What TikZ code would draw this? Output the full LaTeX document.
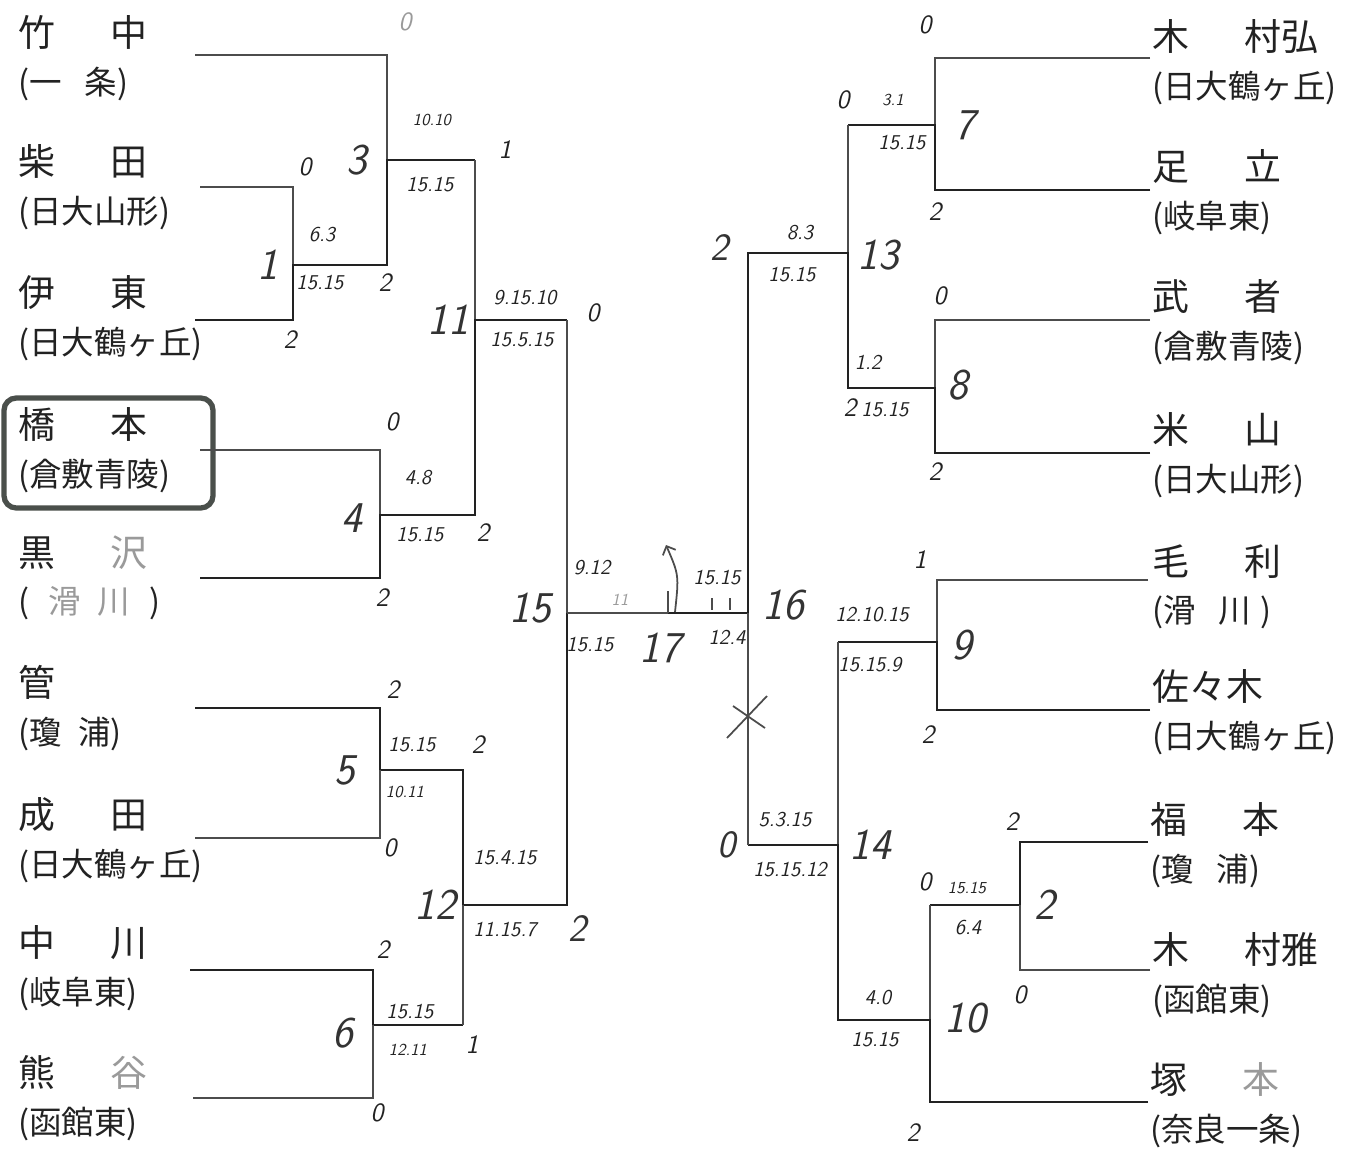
\documentclass[tikz,border=0pt]{standalone}
\usepackage{fontspec}
\usepackage{tikz}
\usetikzlibrary{arrows.meta,fit}
\newfontfamily\jp{Noto Sans CJK JP}
\definecolor{ink}{HTML}{222222}
\definecolor{faint}{HTML}{9A9A9A}
\definecolor{hlgray}{HTML}{4A4F4B}
\newcommand{\nm}{\fontsize{21}{27}\selectfont}
\newcommand{\nsp}{\hspace{1.5em}}
\tikzset{
  pname/.style={font=\jp\fontsize{18.5}{27}\selectfont,text=ink,align=left,inner sep=0pt,anchor=west},
  hlbox/.style={draw=hlgray,line width=3pt,rounded corners=7pt,inner sep=0pt},
  lose/.style={line width=0.6pt,draw=black!70},
  win/.style={line width=1.5pt,draw=ink},
  gsc/.style={font=\sffamily\itshape\fontsize{12}{12}\selectfont,text=ink,inner sep=1pt},
  gsm/.style={gsc,font=\sffamily\itshape\fontsize{9.5}{10}\selectfont},
  msc/.style={font=\sffamily\itshape\fontsize{15}{15}\selectfont,text=ink,inner sep=1pt},
  mno/.style={font=\sffamily\itshape\fontsize{25}{25}\selectfont,text=black!80,inner sep=1pt},
  mbig/.style={mno,font=\sffamily\itshape\fontsize{22}{22}\selectfont}
}
\begin{document}
\begin{tikzpicture}[x=0.2mm,y=-0.2mm]
  \fill[white] (0,0) rectangle (1357,1157);
  \useasboundingbox (0,0) rectangle (1357,1157);
  % players, left
  \node[pname] (n1) at (18,58) {{\nm 竹\nsp 中}\\(一\hspace{.7em}条)};
  \node[pname] (n2) at (18,187) {{\nm 柴\nsp 田}\\(日大山形)};
  \node[pname] (n3) at (18,318) {{\nm 伊\nsp 東}\\(日大鶴ヶ丘)};
  \node[pname] (n4) at (18,450) {{\nm 橋\nsp 本}\\(倉敷青陵)};
  \node[pname] (n5) at (18,578) {{\nm 黒\nsp\textcolor{faint}{沢}}\\(\hspace{.6em}\textcolor{faint}{滑\hspace{.5em}川}\hspace{.6em})};
  \node[pname] (n6) at (18,708) {{\nm 管}\\(瓊\hspace{.5em}浦)};
  \node[pname] (n7) at (18,840) {{\nm 成\nsp 田}\\(日大鶴ヶ丘)};
  \node[pname] (n8) at (18,968) {{\nm 中\nsp 川}\\(岐阜東)};
  \node[pname] (n9) at (18,1098) {{\nm 熊\nsp\textcolor{faint}{谷}}\\(函館東)};
  \node[hlbox,fit={(n4) (4,398) (213,508)}] (h4) {};
  % players, right
  \node[pname] (r1) at (1152,62) {{\nm 木\nsp 村弘}\\(日大鶴ヶ丘)};
  \node[pname] (r2) at (1152,192) {{\nm 足\nsp 立}\\(岐阜東)};
  \node[pname] (r3) at (1152,322) {{\nm 武\nsp 者}\\(倉敷青陵)};
  \node[pname] (r4) at (1152,455) {{\nm 米\nsp 山}\\(日大山形)};
  \node[pname] (r5) at (1152,587) {{\nm 毛\nsp 利}\\(滑\hspace{.7em}川\hspace{.3em})};
  \node[pname] (r6) at (1152,712) {{\nm 佐々木}\\(日大鶴ヶ丘)};
  \node[pname] (r7) at (1150,845) {{\nm 福\nsp 本}\\(瓊\hspace{.7em}浦)};
  \node[pname] (r8) at (1152,975) {{\nm 木\nsp 村雅}\\(函館東)};
  \node[pname] (r9) at (1150,1105) {{\nm 塚\nsp\textcolor{faint}{本}}\\(奈良一条)};
  % line ends
  \coordinate (L1) at (195,55);
  \coordinate (L2) at (200,187);
  \coordinate (L3) at (195,320);
  \coordinate (L4) at (200,450);
  \coordinate (L5) at (200,578);
  \coordinate (L6) at (195,708);
  \coordinate (L7) at (195,838);
  \coordinate (L8) at (190,970);
  \coordinate (L9) at (193,1098);
  \coordinate (R1) at (1150,58);
  \coordinate (R2) at (1150,190);
  \coordinate (R3) at (1150,320);
  \coordinate (R4) at (1150,453);
  \coordinate (R5) at (1148,580);
  \coordinate (R6) at (1150,710);
  \coordinate (R7) at (1148,842);
  \coordinate (R8) at (1150,970);
  \coordinate (R9) at (1148,1102);
  % match points
  \coordinate (m1) at (293,265);
  \coordinate (m3) at (387,160);
  \coordinate (m4) at (380,515);
  \coordinate (m11) at (475,320);
  \coordinate (m5) at (380,770);
  \coordinate (m6) at (373,1025);
  \coordinate (m12) at (463,905);
  \coordinate (m15) at (567,613);
  \coordinate (m17) at (668,613);
  \coordinate (m16) at (748,613);
  \coordinate (m13) at (848,253);
  \coordinate (m7) at (935,125);
  \coordinate (m8) at (935,388);
  \coordinate (m9) at (937,642);
  \coordinate (m2) at (1020,905);
  \coordinate (m10) at (930,1020);
  \coordinate (m14) at (838,845);
  % left bracket
  \draw[lose] (L1) -| (m3);
  \draw[lose] (L2) -| (m1);
  \draw[win] (L3) -| (m1) -| (m3) -- (m3 -| m11);
  \draw[lose] (m3 -| m11) -- (m11);
  \draw[lose] (L4) -| (m4);
  \draw[win] (L5) -| (m4) -| (m11) -- (m11 -| m15);
  \draw[lose] (m11 -| m15) -- (m15);
  \draw[win] (L6) -| (m5) -| (m12) -| (m15);
  \draw[lose] (L7) -| (m5);
  \draw[win] (L8) -| (m6) -- (m6 -| m12);
  \draw[lose] (L9) -| (m6);
  \draw[lose] (m6 -| m12) -- (m12);
  \draw[lose] (m15) -- (m17);
  % right bracket
  \draw[lose] (R1) -| (m7);
  \draw[win] (R2) -| (m7) -- (m7 -| m13);
  \draw[lose] (m7 -| m13) -- (m13);
  \draw[lose] (R3) -| (m8);
  \draw[win] (R4) -| (m8) -| (m13) -| (m16) -- (m17);
  \draw[lose] (R5) -| (m9);
  \draw[win] (R6) -| (m9) -- (m9 -| m14);
  \draw[lose] (m9 -| m14) -- (m14);
  \draw[win] (R7) -| (m2) -- (m2 -| m10);
  \draw[lose] (R8) -| (m2);
  \draw[lose] (m2 -| m10) -- (m10);
  \draw[win] (R9) -| (m10) -| (m14) -- (m14 -| m16);
  \draw[lose,line width=1pt] (m14 -| m16) -- (m16);
  % final marks
  \coordinate (t17) at (675,612);
  \coordinate (a17) at (666,545);
  \draw[lose] (m17) -- ++(0,-22);
  \draw[lose,line width=1pt,-{Straight Barb[length=1.4mm]}] (t17) .. controls (679,575) .. (a17);
  \draw[lose] (712,598) -- (712,610) (730,598) -- (730,610);
  \coordinate (x16) at (747,718);
  \draw[lose,line width=1pt] (x16) ++(-20,20) -- ++(40,-42) (x16) ++(-14,-12) -- ++(32,22);
  % scores, left
  \node[msc,text=faint] (s3a) at (405,22) {0};
  \node[gsm] (g3a) at (432,120) {10.10};
  \node[gsc] (g3b) at (430,185) {15.15};
  \node[msc] (s11a) at (505,150) {1};
  \node[msc] (s1a) at (305,167) {0};
  \node[mno] (k3) at (357,160) {3};
  \node[gsc] (g1a) at (322,235) {6.3};
  \node[mno] (k1) at (268,265) {1};
  \node[gsc] (g1b) at (320,283) {15.15};
  \node[msc] (s3b) at (385,283) {2};
  \node[msc] (s1b) at (290,340) {2};
  \node[mno] (k11) at (448,320) {11};
  \node[gsc] (g11a) at (525,298) {9.15.10};
  \node[gsc] (g11b) at (522,340) {15.5.15};
  \node[msc] (s15a) at (593,313) {0};
  \node[msc] (s4a) at (392,422) {0};
  \node[gsc] (g4a) at (418,478) {4.8};
  \node[mno] (k4) at (352,518) {4};
  \node[gsc] (g4b) at (420,535) {15.15};
  \node[msc] (s11b) at (483,533) {2};
  \node[msc] (s4b) at (382,598) {2};
  \node[gsc] (g15a) at (592,568) {9.12};
  \node[gsm,text=faint] (g15c) at (620,600) {11};
  \node[mno] (k15) at (530,608) {15};
  \node[gsc] (g15b) at (590,645) {15.15};
  \node[mno] (k17) at (660,648) {17};
  \node[gsc] (g17a) at (717,578) {15.15};
  \node[gsc] (g17b) at (727,637) {12.4};
  \node[msc] (s5a) at (393,690) {2};
  \node[gsc] (g5a) at (412,745) {15.15};
  \node[msc] (s12a) at (478,745) {2};
  \node[mno] (k5) at (345,770) {5};
  \node[gsm] (g5b) at (405,792) {10.11};
  \node[msc] (s5b) at (390,848) {0};
  \node[gsc] (g12a) at (505,858) {15.4.15};
  \node[mno] (k12) at (435,905) {12};
  \node[gsc] (g12b) at (505,930) {11.15.7};
  \node[mbig] (s15b) at (578,928) {2};
  \node[msc] (s6a) at (383,950) {2};
  \node[gsc] (g6a) at (410,1012) {15.15};
  \node[mno] (k6) at (343,1033) {6};
  \node[gsm] (g6b) at (408,1050) {12.11};
  \node[msc] (s12b) at (472,1045) {1};
  \node[msc] (s6b) at (377,1113) {0};
  % scores, right
  \node[msc] (s7a) at (925,25) {0};
  \node[msc] (s13a) at (843,100) {0};
  \node[gsm] (g7a) at (893,100) {3.1};
  \node[mno] (k7) at (965,125) {7};
  \node[gsc] (g7b) at (902,143) {15.15};
  \node[msc] (s7b) at (935,212) {2};
  \node[mbig] (s16a) at (720,248) {2};
  \node[gsc] (g13a) at (800,233) {8.3};
  \node[mno] (k13) at (878,255) {13};
  \node[gsc] (g13b) at (792,275) {15.15};
  \node[msc] (s8a) at (940,296) {0};
  \node[gsc] (g8a) at (868,362) {1.2};
  \node[mno] (k8) at (958,385) {8};
  \node[msc] (s13b) at (850,408) {2};
  \node[gsc] (g8b) at (885,410) {15.15};
  \node[msc] (s8b) at (935,472) {2};
  \node[msc] (s9a) at (920,560) {1};
  \node[mno] (k16) at (783,605) {16};
  \node[gsc] (g9a) at (872,615) {12.10.15};
  \node[mno] (k9) at (962,645) {9};
  \node[gsc] (g9b) at (870,665) {15.15.9};
  \node[msc] (s9b) at (928,735) {2};
  \node[msc] (s2a) at (1012,822) {2};
  \node[gsc] (g14a) at (785,820) {5.3.15};
  \node[mbig] (s16b) at (727,845) {0};
  \node[mno] (k14) at (870,845) {14};
  \node[gsc] (g14b) at (790,870) {15.15.12};
  \node[msc] (s10a) at (925,882) {0};
  \node[gsm] (g2a) at (967,888) {15.15};
  \node[mno] (k2) at (1045,905) {2};
  \node[gsc] (g2b) at (968,928) {6.4};
  \node[msc] (s2b) at (1020,995) {0};
  \node[gsc] (g10a) at (878,998) {4.0};
  \node[mno] (k10) at (965,1018) {10};
  \node[gsc] (g10b) at (875,1040) {15.15};
  \node[msc] (s10b) at (913,1133) {2};
\end{tikzpicture}
\end{document}
